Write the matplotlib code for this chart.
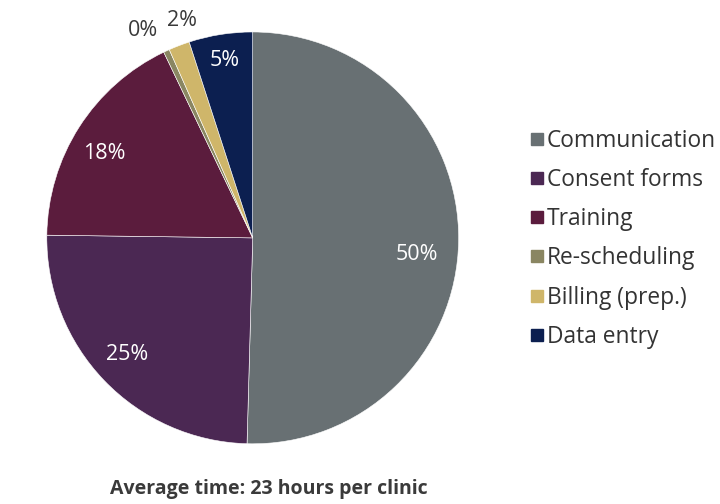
import numpy as np
import matplotlib
matplotlib.use("Agg")
import matplotlib.pyplot as plt
from matplotlib.lines import Line2D

plt.rcParams['font.family'] = ['Open Sans', 'DejaVu Sans']

categories = ["Communication", "Consent forms", "Training", "Re-scheduling", "Billing (prep.)", "Data entry"]
values = [50.44, 24.77, 17.68, 0.47, 1.65, 4.99]
labels_pct = ["50%", "25%", "18%", "0%", "2%", "5%"]
colors = ["#687073", "#4b2853", "#5b1c3d", "#8a8662", "#cfb66a", "#0c1f50"]
title = "Average time: 23 hours per clinic"

fig = plt.figure(figsize=(7.2, 5.04), dpi=100)
ax = fig.add_axes([0.065, 0.119, 0.572, 0.818])
wedges, _ = ax.pie(values, colors=colors, startangle=90, counterclock=False,
                   wedgeprops=dict(edgecolor="white", linewidth=0.4))
ax.set_xlim(-1, 1)
ax.set_ylim(-1, 1)
ax.set_aspect('equal')

dists = [0.80, 0.83, 0.83, 1.14, 1.11, 0.87]
offs = [-5, -1, 3, 3, -3, 0]
for w, lab, d, o, in zip(wedges, labels_pct, dists, offs):
    ang = np.deg2rad((w.theta1 + w.theta2) / 2 + o)
    col = "#3a3a3a" if d > 1 else "white"
    ax.text(d * np.cos(ang), d * np.sin(ang), lab, ha="center", va="center",
            fontsize=15.5, color=col, clip_on=False)

handles = [Line2D([], [], marker="s", linestyle="none", markersize=8,
                  markerfacecolor=c, markeredgecolor=c) for c in colors]
fig.legend(handles, categories, loc="upper left", bbox_to_anchor=(0.733, 0.745),
           frameon=False, fontsize=16.4, labelcolor="#333333", handletextpad=0.05,
           handlelength=0.8, labelspacing=0.67, borderaxespad=0, borderpad=0)

fig.text(0.3735, 0.029, title, ha="center", va="center", fontsize=14,
         fontweight="bold", color="#3a3a3a")

fig.savefig("out.png", dpi=100)
